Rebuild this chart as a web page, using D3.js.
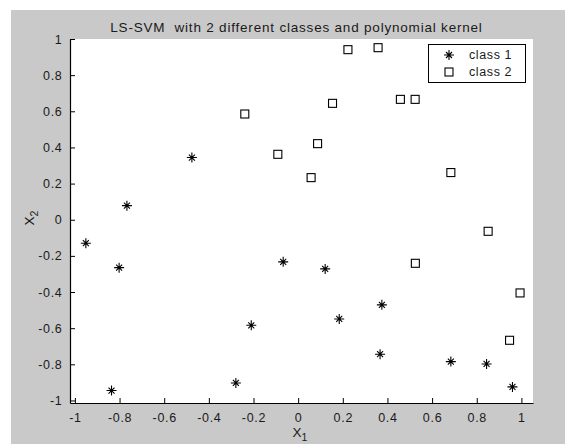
<!DOCTYPE html>
<html><head><meta charset="utf-8">
<script src="https://cdn.jsdelivr.net/npm/d3@7"></script>
<style>body{margin:0;background:#fff;}svg{display:block;font-family:"Liberation Sans",Arial,sans-serif;}</style>
</head><body>
<svg id="c" width="565" height="444"></svg>
<script>
const class1X = [-0.476,-0.767,-0.951,-0.802,-0.067,-0.210,-0.279,-0.836,0.121,0.375,0.184,0.367,0.684,0.844,0.960];
const class1Y = [0.344,0.078,-0.130,-0.265,-0.233,-0.584,-0.903,-0.945,-0.272,-0.471,-0.549,-0.744,-0.785,-0.798,-0.925];
const class2X = [-0.239,-0.091,0.223,0.358,0.154,0.458,0.524,0.087,0.058,0.684,0.851,0.525,0.994,0.947];
const class2Y = [0.585,0.362,0.941,0.952,0.644,0.666,0.666,0.421,0.233,0.261,-0.064,-0.241,-0.405,-0.667];
const xTicks = [-1,-0.8,-0.6,-0.4,-0.2,0,0.2,0.4,0.6,0.8,1];
const yTicks = [-1,-0.8,-0.6,-0.4,-0.2,0,0.2,0.4,0.6,0.8,1];
const titleText = "LS-SVM  with 2 different classes and polynomial kernel";
const legendLabels = ["class 1","class 2"];

const svg = d3.select("#c");
const L = 70, R = 533, T = 39, B = 403;
const x = d3.scaleLinear().domain([-1.022, 1.052]).range([L, R]);
const y = d3.scaleLinear().domain([-1.014, 1]).range([B, T]);

svg.append("rect").attr("x",11).attr("y",10).attr("width",565-11).attr("height",444-10).attr("fill","#c9c9c9");
svg.append("rect").attr("x",L).attr("y",T).attr("width",R-L).attr("height",B-T).attr("fill","#fff");

const fmt = d => String(d);
const xa = svg.append("g").attr("transform",`translate(0,${B})`)
  .call(d3.axisBottom(x).tickValues(xTicks).tickSizeInner(-5).tickSizeOuter(0).tickPadding(10).tickFormat(fmt));
const ya = svg.append("g").attr("transform",`translate(${L},0)`)
  .call(d3.axisLeft(y).tickValues(yTicks).tickSizeInner(-5).tickSizeOuter(0).tickPadding(8).tickFormat(fmt));
[xa,ya].forEach(g=>{
  g.select(".domain").attr("stroke","#000").attr("stroke-width",1.2);
  g.selectAll(".tick line").attr("stroke","#000");
  g.selectAll(".tick text").attr("fill","#1a1a1a").style("font-size","12.5px").style("letter-spacing","0.7px")
    .style("font-family","'Liberation Sans',Arial,sans-serif");
});
ya.selectAll(".tick text").attr("dx","0.5");

const starPath = "M-5,0H5M0,-5V5M-3,-3L3,3M-3,3L3,-3";
function star(g, cx, cy){
  g.append("path").attr("d",starPath).attr("transform",`translate(${cx},${cy})`).attr("stroke","#000").attr("stroke-width",1.1).attr("fill","none");
}
function square(g, cx, cy){
  g.append("rect").attr("x",cx-4).attr("y",cy-4).attr("width",8).attr("height",8).attr("stroke","#000").attr("stroke-width",1.1).attr("fill","none");
}
const pts = svg.append("g");
class1X.forEach((v,i)=>star(pts, x(v), y(class1Y[i])));
class2X.forEach((v,i)=>square(pts, x(v), y(class2Y[i])));

svg.append("text").attr("x",(L+R)/2 - 5).attr("y",32).attr("text-anchor","middle")
  .style("font-size","13.5px").style("letter-spacing","0.8px").style("white-space","pre").attr("xml:space","preserve")
  .attr("fill","#1a1a1a").text(titleText);

// axis labels
const xl = svg.append("text").attr("x",300).attr("y",437).attr("text-anchor","middle").style("font-size","13.5px").attr("fill","#1a1a1a");
xl.append("tspan").text("X");
xl.append("tspan").attr("dy",4).style("font-size","10.5px").text("1");
const yl = svg.append("text").attr("transform","translate(33.5,218) rotate(-90)").attr("text-anchor","middle").style("font-size","13.5px").attr("fill","#1a1a1a");
yl.append("tspan").text("X");
yl.append("tspan").attr("dy",4).style("font-size","10.5px").text("2");

// legend
const lg = svg.append("g");
lg.append("rect").attr("x",428.5).attr("y",44.5).attr("width",97).attr("height",38).attr("fill","#fff").attr("stroke","#000").attr("stroke-width",1);
star(lg, 449, 55);
square(lg, 449, 72);
legendLabels.forEach((t,i)=>{
  lg.append("text").attr("x",469).attr("y",59+i*17).style("font-size","12.5px").style("letter-spacing","0.6px").attr("fill","#1a1a1a").text(t);
});
</script>
</body></html>
